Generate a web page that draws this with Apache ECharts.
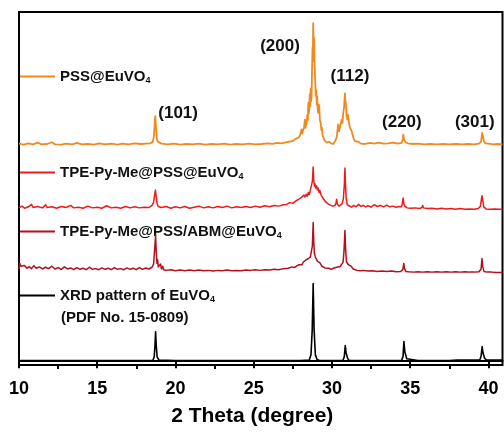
<!DOCTYPE html>
<html><head><meta charset="utf-8">
<script src="https://cdn.jsdelivr.net/npm/echarts@6/dist/echarts.min.js"></script>
<style>html,body{margin:0;padding:0;background:#fff}#c{width:504px;height:432px}</style>
</head><body><div id="c"></div>
<script>
const seriesNames = ['PSS@EuVO4', 'TPE-Py-Me@PSS@EuVO4', 'TPE-Py-Me@PSS/ABM@EuVO4', 'XRD pattern of EuVO4'];
const refNote = '(PDF No. 15-0809)';

const orange = [[10.0,62.3],[10.3,62.0],[10.6,62.4],[10.9,62.1],[11.2,62.6],[11.4,62.1],[11.8,62.2],[12.1,62.7],[12.3,62.1],[12.7,62.0],[13.0,62.3],[13.4,62.1],[13.7,62.5],[14.0,62.1],[14.4,62.2],[14.8,62.0],[15.1,62.4],[15.5,62.1],[15.9,62.3],[16.3,62.0],[16.6,62.3],[17.0,62.1],[17.4,62.4],[17.8,62.2],[18.1,62.3],[18.4,62.4],[18.55,62.8],[18.62,64.5],[18.67,68],[18.71,70.2],[18.75,67.5],[18.8,64],[18.86,62.9],[18.95,62.5],[19.1,62.3],[19.5,62.1],[19.9,62.3],[20.3,62.0],[20.7,62.2],[21.1,62.1],[21.5,62.3],[21.9,62.0],[22.3,62.2],[22.7,62.1],[23.1,62.3],[23.5,62.0],[23.9,62.2],[24.3,62.1],[24.7,62.3],[25.1,62.1],[25.5,62.2],[25.9,62.4],[26.2,62.2],[26.5,62.5],[26.8,62.4],[27.1,62.7],[27.3,62.9],[27.52,63.1],[27.65,63.6],[27.75,63.3],[27.85,64.0],[27.95,64.6],[28.0,64.2],[28.06,66.4],[28.1,65.2],[28.17,65.4],[28.22,67.0],[28.27,69.2],[28.31,66.8],[28.35,68.5],[28.38,67.8],[28.42,70.5],[28.46,69.0],[28.49,74.0],[28.52,71.0],[28.55,72.0],[28.58,76.5],[28.61,73.0],[28.64,78.1],[28.67,74.5],[28.7,75.8],[28.73,84.0],[28.76,89.9],[28.78,86.0],[28.8,96.8],[28.83,90.0],[28.86,92.6],[28.89,85.0],[28.93,80.4],[28.96,76.0],[29.0,77.6],[29.03,73.5],[29.06,75.8],[29.09,72.0],[29.12,71.1],[29.16,73.5],[29.19,72.9],[29.23,69.0],[29.28,68.3],[29.32,66.2],[29.36,66.9],[29.4,64.8],[29.45,64.0],[29.5,63.5],[29.55,63.1],[29.62,63.6],[29.68,62.6],[29.76,62.2],[29.82,62.8],[29.87,63.1],[29.95,62.4],[30.02,62.8],[30.08,62.2],[30.15,62.7],[30.22,63.2],[30.3,64.0],[30.35,66.0],[30.4,67.8],[30.45,65.8],[30.51,66.9],[30.56,68.0],[30.62,69.2],[30.67,68.2],[30.72,71.1],[30.77,72.5],[30.83,76.7],[30.86,74.5],[30.89,73.9],[30.93,70.5],[30.98,69.2],[31.02,70.6],[31.06,70.1],[31.1,68.0],[31.15,66.9],[31.2,67.3],[31.26,65.9],[31.33,64.6],[31.4,63.6],[31.48,63.0],[31.58,62.6],[31.7,62.8],[31.85,62.3],[32.0,62.2],[32.2,62.3],[32.45,62.5],[32.7,62.3],[33.0,62.6],[33.3,62.3],[33.6,62.4],[33.9,62.6],[34.2,62.3],[34.45,62.5],[34.51,63.2],[34.56,64.9],[34.61,63.4],[34.7,62.7],[34.85,62.4],[35.1,62.2],[35.5,62.3],[35.9,62.1],[36.3,62.2],[36.7,62.1],[37.1,62.2],[37.5,62.1],[37.9,62.2],[38.3,62.1],[38.7,62.2],[39.1,62.1],[39.4,62.3],[39.53,62.9],[39.6,65.4],[39.65,64.5],[39.71,63.0],[39.8,62.4],[40.0,62.3],[40.3,62.1],[40.6,62.2],[40.9,62.1]];

const red = [[10.0,43.9],[10.2,44.4],[10.35,43.8],[10.6,44.2],[10.8,44.9],[10.9,44.0],[11.2,44.3],[11.5,43.9],[11.7,44.8],[11.8,44.0],[12.1,44.2],[12.4,43.8],[12.7,44.3],[13.0,44.0],[13.3,44.6],[13.5,43.9],[13.8,44.1],[14.1,43.8],[14.4,44.4],[14.7,43.9],[15.0,44.1],[15.3,43.8],[15.6,44.5],[15.9,43.9],[16.2,44.1],[16.5,43.8],[16.8,44.3],[17.1,43.9],[17.4,44.2],[17.7,43.9],[18.0,44.1],[18.3,44.0],[18.5,44.6],[18.6,45.5],[18.66,47.5],[18.72,49.0],[18.77,47.0],[18.82,45.2],[18.9,44.3],[19.1,44.0],[19.4,44.3],[19.7,43.8],[20.0,44.2],[20.3,43.9],[20.6,44.3],[20.9,43.8],[21.2,44.1],[21.5,44.4],[21.8,43.9],[22.1,44.2],[22.4,43.9],[22.7,44.3],[23.0,44.0],[23.3,44.4],[23.6,43.9],[23.9,44.2],[24.2,44.0],[24.5,44.3],[24.8,44.0],[25.1,44.4],[25.4,44.1],[25.7,44.5],[26.0,44.2],[26.3,44.6],[26.6,44.4],[26.9,44.8],[27.1,44.9],[27.3,45.4],[27.5,45.2],[27.7,45.9],[27.85,46.3],[27.96,46.0],[28.05,46.9],[28.12,46.4],[28.2,47.6],[28.27,47.0],[28.35,47.8],[28.42,47.2],[28.49,48.3],[28.55,47.7],[28.62,49.0],[28.7,49.3],[28.75,51.5],[28.8,55.6],[28.84,51.5],[28.88,50.2],[28.91,50.8],[28.95,49.6],[29.02,50.2],[29.07,49.0],[29.12,49.6],[29.18,48.3],[29.23,48.9],[29.3,47.6],[29.37,47.9],[29.45,46.5],[29.52,46.9],[29.6,45.6],[29.66,45.9],[29.74,45.1],[29.82,45.6],[29.9,44.7],[29.98,44.9],[30.06,44.4],[30.14,44.9],[30.2,44.6],[30.26,45.3],[30.3,46.4],[30.34,45.0],[30.45,44.4],[30.55,44.7],[30.65,45.1],[30.73,46.5],[30.79,50.5],[30.83,55.3],[30.87,50.0],[30.91,46.5],[30.98,44.8],[31.1,44.5],[31.25,44.1],[31.4,44.6],[31.55,44.2],[31.7,44.9],[31.85,44.3],[32.0,44.6],[32.15,44.2],[32.3,44.5],[32.5,44.1],[32.7,44.8],[32.9,44.3],[33.1,44.6],[33.3,44.2],[33.5,44.7],[33.7,44.2],[33.9,44.4],[34.1,44.1],[34.3,44.3],[34.45,44.2],[34.5,45.2],[34.55,46.7],[34.6,45.0],[34.66,44.4],[34.8,43.9],[35.0,43.8],[35.3,43.9],[35.6,43.7],[35.75,44.0],[35.8,44.6],[35.85,43.9],[36.1,43.7],[36.4,43.8],[36.7,43.6],[37.0,43.8],[37.3,43.6],[37.6,43.7],[37.9,43.5],[38.2,43.7],[38.5,43.5],[38.8,43.6],[39.1,43.5],[39.35,43.7],[39.48,44.3],[39.54,46.0],[39.59,47.4],[39.64,46.0],[39.7,44.2],[39.85,43.6],[40.1,43.5],[40.4,43.6],[40.7,43.5],[40.9,43.5]];

const darkRed = [[10.0,26.4],[10.05,28.0],[10.12,27.2],[10.2,26.8],[10.35,27.4],[10.5,26.6],[10.65,27.1],[10.8,26.5],[10.95,27.3],[11.1,26.6],[11.3,27.0],[11.5,26.4],[11.7,26.9],[11.9,26.5],[12.1,27.2],[12.3,26.4],[12.5,26.8],[12.7,26.3],[12.9,27.0],[13.1,26.4],[13.3,26.7],[13.5,26.2],[13.7,26.8],[13.9,26.3],[14.1,26.6],[14.3,26.2],[14.5,26.9],[14.7,26.3],[14.9,26.5],[15.1,26.2],[15.3,26.7],[15.5,26.3],[15.7,26.6],[15.9,26.2],[16.1,26.8],[16.3,26.3],[16.5,26.5],[16.7,26.2],[16.9,26.7],[17.1,26.3],[17.3,26.6],[17.5,26.2],[17.7,26.8],[17.9,26.3],[18.1,26.7],[18.3,26.4],[18.5,26.9],[18.6,27.8],[18.67,32.0],[18.73,36.1],[18.77,31.5],[18.82,28.0],[18.86,29.0],[18.9,27.0],[18.97,26.6],[19.05,27.8],[19.1,26.4],[19.18,27.2],[19.25,26.2],[19.4,26.0],[19.7,26.2],[20.0,25.9],[20.3,26.1],[20.6,25.9],[20.9,26.1],[21.2,25.9],[21.5,26.1],[21.8,25.9],[22.1,26.0],[22.4,25.8],[22.7,26.0],[23.0,25.9],[23.3,26.1],[23.6,25.9],[23.9,26.0],[24.2,25.9],[24.5,26.1],[24.8,26.0],[25.1,26.2],[25.4,26.0],[25.7,26.2],[26.0,26.1],[26.3,26.3],[26.6,26.2],[26.9,26.5],[27.2,26.6],[27.45,27.0],[27.6,26.8],[27.75,27.3],[27.9,27.6],[28.0,28.1],[28.08,27.6],[28.17,28.4],[28.27,28.0],[28.35,29.0],[28.42,28.5],[28.49,29.4],[28.55,28.9],[28.62,29.8],[28.7,29.9],[28.75,33.0],[28.8,39.7],[28.84,34.0],[28.88,30.8],[28.91,30.3],[28.96,29.6],[29.02,29.4],[29.08,28.6],[29.14,29.0],[29.22,28.2],[29.3,27.8],[29.38,27.1],[29.46,27.4],[29.55,26.7],[29.66,26.4],[29.8,26.6],[29.95,26.3],[30.1,26.6],[30.2,26.4],[30.3,26.9],[30.42,26.6],[30.52,27.1],[30.62,27.5],[30.71,28.3],[30.77,31.5],[30.83,37.4],[30.88,31.5],[30.93,28.4],[30.99,28.0],[31.05,27.6],[31.12,27.9],[31.2,27.3],[31.3,26.8],[31.36,26.4],[31.45,26.1],[31.6,26.0],[31.8,25.9],[32.0,26.0],[32.3,25.8],[32.6,25.9],[32.9,25.7],[33.2,25.8],[33.5,25.7],[33.8,25.8],[34.1,25.6],[34.4,25.7],[34.53,26.2],[34.59,28.0],[34.64,26.5],[34.72,25.7],[34.9,25.6],[35.2,25.5],[35.5,25.6],[35.8,25.5],[36.1,25.6],[36.4,25.5],[36.7,25.6],[37.0,25.5],[37.3,25.6],[37.6,25.5],[37.9,25.6],[38.2,25.5],[38.5,25.6],[38.8,25.5],[39.1,25.5],[39.4,25.6],[39.53,26.4],[39.59,29.4],[39.64,27.0],[39.72,25.7],[39.9,25.5],[40.2,25.5],[40.5,25.4],[40.9,25.4]];

const black = [[10,0.2],[12,0.2],[14,0.2],[16,0.2],[18,0.2],[18.55,0.2],[18.64,1.2],[18.69,4.5],[18.73,8.4],[18.77,4.5],[18.83,1.2],[18.95,0.3],[20,0.2],[22,0.2],[24,0.2],[26,0.2],[28,0.2],[28.55,0.3],[28.66,1.8],[28.74,9.0],[28.8,22.2],[28.86,9.0],[28.94,1.8],[29.05,0.5],[29.2,0.2],[30,0.2],[30.7,0.2],[30.79,1.3],[30.85,4.5],[30.9,2.5],[30.94,2.2],[31.0,0.8],[31.1,0.2],[32,0.2],[33,0.2],[34,0.2],[34.45,0.2],[34.54,1.3],[34.6,5.6],[34.66,2.6],[34.7,2.2],[34.78,0.7],[34.9,0.2],[35.5,0.2],[36.5,0.2],[37.5,0.2],[38.0,0.3],[39.0,0.3],[39.45,0.3],[39.53,1.4],[39.6,4.2],[39.65,2.4],[39.69,2.0],[39.77,0.7],[39.9,0.3],[40.5,0.3],[40.9,0.3]];

const majorTicks = [10, 15, 20, 25, 30, 35, 40];
const minorTicks = [12.5, 17.5, 22.5, 27.5, 32.5, 37.5];
const peakLabels = ['(101)', '(200)', '(112)', '(220)', '(301)'];
const peakLabelX = [20.17, 26.68, 31.15, 34.47, 39.13];
const peakLabelY = [71.1, 90.2, 81.5, 68.5, 68.5];

const FF = 'Liberation Sans, Arial, Helvetica, sans-serif';
const colors = ['#f08a1e', '#ee1a1a', '#b3101c', '#000000'];
const widths = [1.8, 1.5, 1.5, 1.6];
const datas = [orange, red, darkRed, black];
const legendTops = [69, 165, 224, 288];

const chart = echarts.init(document.getElementById('c'), null, {renderer: 'canvas'});
const xBase = {
  type: 'value', min: 10, max: 40.9, gridIndex: 0, position: 'bottom', offset: 0,
  splitLine: {show: false}
};
chart.setOption({
  animation: false,
  backgroundColor: '#fff',
  grid: {left: 19, right: 1.5, top: 12, bottom: 60, show: true, borderColor: '#000', borderWidth: 2, backgroundColor: 'transparent'},
  xAxis: [
    Object.assign({}, xBase, {
      axisLine: {show: true, lineStyle: {color: '#000', width: 2}},
      axisTick: {show: true, inside: false, length: 7, customValues: majorTicks, lineStyle: {color: '#000', width: 2}},
      axisLabel: {show: true, customValues: majorTicks, margin: 15, color: '#000', fontSize: 18, fontWeight: 'bold', fontFamily: FF},
      name: '2 Theta (degree)', nameLocation: 'middle', nameGap: 41,
      nameTextStyle: {color: '#000', fontSize: 21, fontWeight: 'bold', fontFamily: FF, padding: [0, 17, 0, 0]}
    }),
    Object.assign({}, xBase, {
      axisLine: {show: false},
      axisTick: {show: true, inside: false, length: 4, customValues: minorTicks, lineStyle: {color: '#000', width: 2}},
      axisLabel: {show: false}
    })
  ],
  yAxis: {type: 'value', min: -1.1, max: 100, show: false, splitLine: {show: false}},
  legend: seriesNames.map((n, i) => ({
    data: [n], left: 20, top: legendTops[i], padding: 0, orient: 'horizontal',
    itemWidth: 35, itemHeight: 2, icon: 'rect', selectedMode: false,
    formatter: name => '{m|' + name.slice(0, -1) + '}{s|' + name.slice(-1) + '}',
    textStyle: {
      rich: {
        m: {fontSize: 15, fontWeight: 'bold', fontFamily: FF, color: '#111', lineHeight: 18},
        s: {fontSize: 9, fontWeight: 'bold', fontFamily: FF, color: '#111', lineHeight: 11, verticalAlign: 'bottom'}
      }
    }
  })),
  graphic: [{
    type: 'text', left: 61, top: 310,
    style: {text: refNote, fill: '#111', font: 'bold 15px ' + FF}
  }],
  series: seriesNames.map((n, i) => ({
    name: n, type: 'line', data: datas[i], showSymbol: false, symbol: 'none',
    lineStyle: {color: colors[i], width: widths[i], join: 'round'}, itemStyle: {color: colors[i]},
    z: 2 + i, sampling: null,
    markPoint: i === 0 ? {
      symbol: 'circle', symbolSize: 0, silent: true,
      label: {show: true, position: 'inside', color: '#111', fontSize: 17, fontWeight: 'bold', fontFamily: FF, formatter: p => p.name},
      data: peakLabels.map((t, k) => ({name: t, coord: [peakLabelX[k], peakLabelY[k]]}))
    } : undefined
  }))
});
</script></body></html>
